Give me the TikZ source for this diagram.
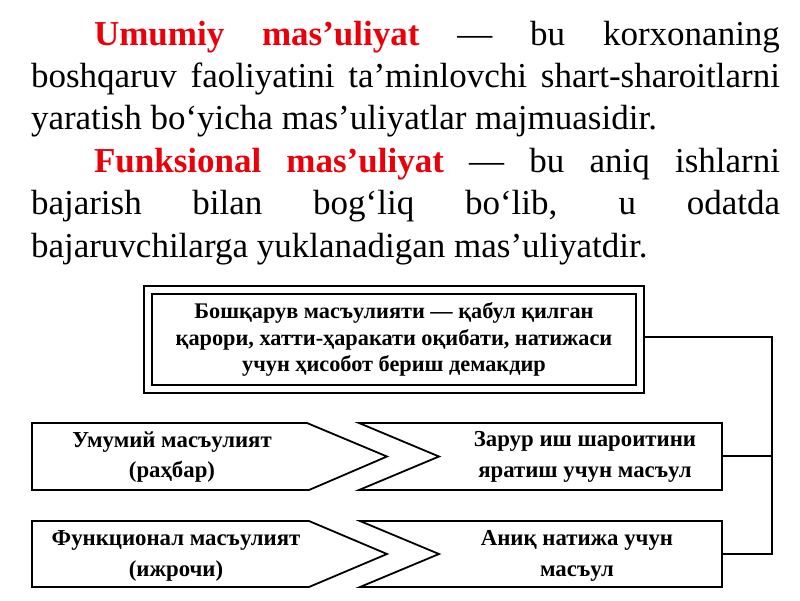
\documentclass[tikz,border=0pt]{standalone}
\usepackage{fontspec}
\setmainfont{Liberation Serif}
\definecolor{termred}{RGB}{235,0,10}
\tikzset{
  para/.style={anchor=base west, inner sep=0pt, outer sep=0pt, font=\fontsize{35}{42}\selectfont},
  diag/.style={align=center, inner sep=0pt, font=\bfseries\fontsize{22.8}{30.5}\selectfont},
  shapeline/.style={draw=black, line width=1.8pt, line join=miter},
  conn/.style={draw=black, line width=2pt},
  topbox/.style={draw=black, line width=1.8pt, double, double distance=5.6pt,
    minimum width=492pt, minimum height=99pt, inner sep=0pt, outer sep=0pt,
    align=center, font=\bfseries\fontsize{22.3}{26.2}\selectfont}
}
\begin{document}
\begin{tikzpicture}[x=1pt,y=-1pt]
\useasboundingbox[fill=white] (0,0) rectangle (800,600);
% paragraphs
\node[para] (p1) at (94,45) {\makebox[686pt][s]{\textcolor{termred}{\bfseries Umumiy mas’uliyat} — bu korxonaning}};
\node[para] (p2) at (31,87) {\makebox[749pt][s]{boshqaruv faoliyatini ta’minlovchi shart-sharoitlarni}};
\node[para] (p3) at (31,129.5) {yaratish bo‘yicha mas’uliyatlar majmuasidir.};
\node[para] (p4) at (94,172) {\makebox[686pt][s]{\textcolor{termred}{\bfseries Funksional mas’uliyat} — bu aniq ishlarni}};
\node[para] (p5) at (31,214.5) {\makebox[749pt][s]{bajarish bilan bog‘liq bo‘lib, u odatda}};
\node[para] (p6) at (31,257) {bajaruvchilarga yuklanadigan mas’uliyatdir.};
% top box
\node[topbox] (top) at (394,339.5) {Бошқарув масъулияти — қабул қилган\\қарори, хатти-ҳаракати оқибати, натижаси\\учун ҳисобот бериш демакдир};
% row shapes
\draw[shapeline] (32,423) -- (307,423) -- (387,456.5) -- (309,490) -- (32,490) -- cycle;
\draw[shapeline] (359,423) -- (722,423) -- (722,490) -- (359,490) -- (439,456.5) -- cycle;
\draw[shapeline] (32,521) -- (309,521) -- (387,554) -- (309,587) -- (32,587) -- cycle;
\draw[shapeline] (360,521) -- (722,521) -- (722,587) -- (360,587) -- (439,554) -- cycle;
% texts
\node[diag] (l1) at (172,457) {Умумий масъулият\\(раҳбар)};
\node[diag] (r1) at (585,457) {Зарур иш шароитини\\яратиш учун масъул};
\node[diag] (l2) at (176,556) {Функционал масъулият\\(ижрочи)};
\node[diag] (r2) at (577,556) {Аниқ натижа учун\\масъул};
% connector coordinates
\coordinate (r1e) at (722,456);
\coordinate (r2e) at (722,554);
\coordinate (bus) at (772,0);
\draw[conn] ([xshift=3.7pt]top.east |- 0,337) -- (bus |- 0,337) -- (bus |- r2e) -- (r2e);
\draw[conn] (bus |- r1e) -- (r1e);
\end{tikzpicture}
\end{document}
